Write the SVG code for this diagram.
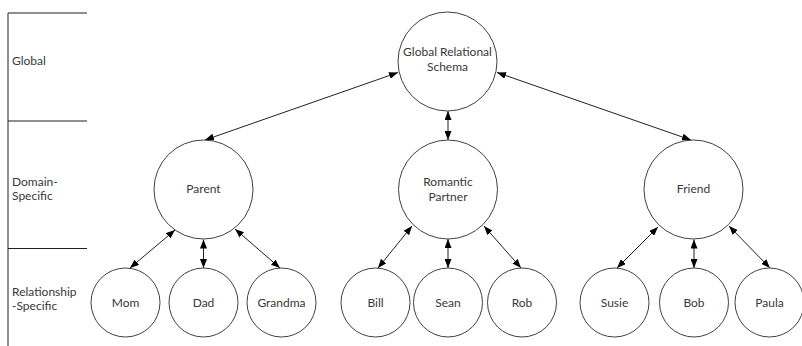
<svg xmlns="http://www.w3.org/2000/svg" width="802" height="346" viewBox="0 0 802 346">
<defs>
<style>
.n circle{fill:#fff;stroke:#404040;stroke-width:1}
text{font-family:Lato,"Liberation Sans",sans-serif;font-size:12px;fill:#383838}
.n text{text-anchor:middle}
.c line{stroke:#202020;stroke-width:1;marker-start:url(#ah);marker-end:url(#ah)}
.band{stroke:#202020;stroke-width:1;fill:none}
</style>
<marker id="ah" markerUnits="userSpaceOnUse" markerWidth="9" markerHeight="7" refX="9" refY="3.5" orient="auto-start-reverse">
<path d="M0,0 L9,3.5 L0,7 z" fill="#000"/>
</marker>
</defs>
<rect width="802" height="346" fill="#fff"/>
<g id="levels">
<path class="band" d="M8,13 V346 M8,13 H87 M8,121 H87 M8,248.5 H87"/>
<text x="12" y="65">Global</text>
<text x="12" y="186">Domain-</text>
<text x="12" y="200">Specific</text>
<text x="12" y="296">Relationship</text>
<text x="12" y="310">-Specific</text>
</g>
<g class="c" id="connectors">
<line x1="398" y1="72.5" x2="205" y2="140"/>
<line x1="448" y1="111" x2="448" y2="140"/>
<line x1="497" y1="72.5" x2="691" y2="140"/>
<line x1="175" y1="230" x2="130" y2="268"/>
<line x1="203.5" y1="239.5" x2="203.5" y2="268"/>
<line x1="235" y1="229" x2="280" y2="268"/>
<line x1="412" y1="226" x2="378" y2="268"/>
<line x1="448" y1="239" x2="448" y2="268"/>
<line x1="484" y1="226" x2="521" y2="268"/>
<line x1="658" y1="227" x2="617" y2="268"/>
<line x1="694" y1="239.5" x2="694" y2="268"/>
<line x1="729" y1="226" x2="770" y2="268"/>
</g>
<g class="n" id="global"><circle cx="447.5" cy="61.5" r="49.5"/><text x="447.5" y="56">Global Relational</text><text x="447.5" y="71">Schema</text></g>
<g class="n" id="parent"><circle cx="203.5" cy="189.5" r="49.5"/><text x="203.5" y="193">Parent</text></g>
<g class="n" id="romantic"><circle cx="448" cy="189.5" r="49.5"/><text x="448" y="186">Romantic</text><text x="448" y="201">Partner</text></g>
<g class="n" id="friend"><circle cx="693.5" cy="189.5" r="49.5"/><text x="693.5" y="193">Friend</text></g>
<g class="n" id="mom"><circle cx="125.5" cy="302.5" r="34.5"/><text x="125.5" y="307">Mom</text></g>
<g class="n" id="dad"><circle cx="203.5" cy="302.5" r="34.5"/><text x="203.5" y="307">Dad</text></g>
<g class="n" id="grandma"><circle cx="281.5" cy="302.5" r="34.5"/><text x="281.5" y="307">Grandma</text></g>
<g class="n" id="bill"><circle cx="375.5" cy="302.5" r="34.5"/><text x="375.5" y="307">Bill</text></g>
<g class="n" id="sean"><circle cx="448" cy="302.5" r="34.5"/><text x="448" y="307">Sean</text></g>
<g class="n" id="rob"><circle cx="522" cy="302.5" r="34.5"/><text x="522" y="307">Rob</text></g>
<g class="n" id="susie"><circle cx="614.5" cy="302.5" r="34.5"/><text x="614.5" y="307">Susie</text></g>
<g class="n" id="bob"><circle cx="694" cy="302.5" r="34.5"/><text x="694" y="307">Bob</text></g>
<g class="n" id="paula"><circle cx="769.5" cy="302.5" r="34.5"/><text x="769.5" y="307">Paula</text></g>
</svg>
